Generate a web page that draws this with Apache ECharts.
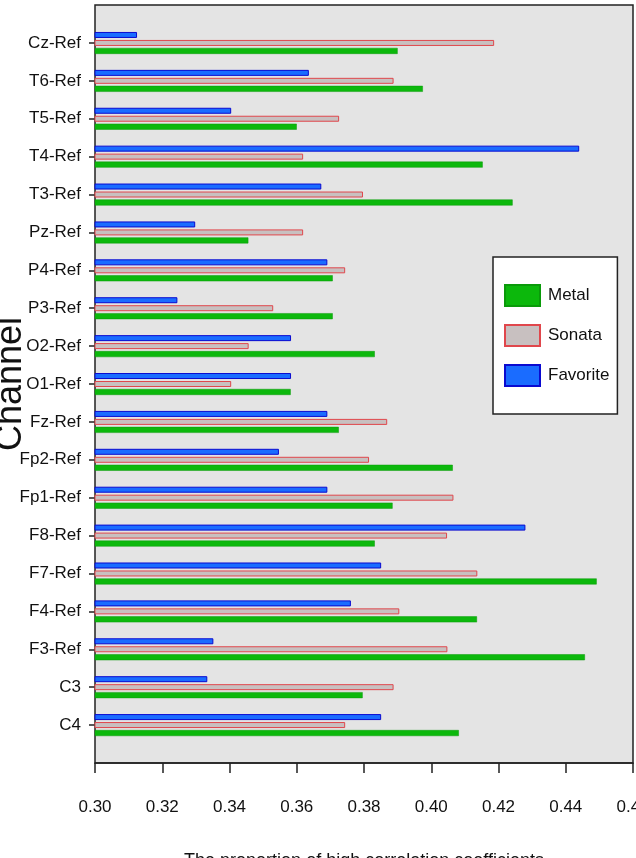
<!DOCTYPE html>
<html>
<head>
<meta charset="utf-8">
<script src="https://cdn.jsdelivr.net/npm/echarts@6/dist/echarts.min.js"></script>
<style>
  html, body { margin: 0; padding: 0; background: #fff; }
  #chart { width: 636px; height: 858px; }
</style>
</head>
<body>
<div id="chart"></div>
<script>
// channels, bottom to top (as echarts lays out a y category axis)
var channels = ['C4', 'C3', 'F3-Ref', 'F4-Ref', 'F7-Ref', 'F8-Ref', 'Fp1-Ref', 'Fp2-Ref', 'Fz-Ref',
  'O1-Ref', 'O2-Ref', 'P3-Ref', 'P4-Ref', 'Pz-Ref', 'T3-Ref', 'T4-Ref', 'T5-Ref', 'T6-Ref', 'Cz-Ref']

var metal = [0.4082, 0.3796, 0.4457, 0.4136, 0.4492, 0.3832, 0.3885, 0.4064, 0.3725,
  0.3582, 0.3832, 0.3707, 0.3707, 0.3456, 0.4242, 0.4153, 0.3600, 0.3975, 0.3900]

var sonata = [0.3744, 0.3888, 0.4048, 0.3905, 0.4137, 0.4047, 0.4066, 0.3815, 0.3869,
  0.3405, 0.3457, 0.3530, 0.3744, 0.3619, 0.3797, 0.3619, 0.3726, 0.3888, 0.4187]

var favorite = [0.3851, 0.3334, 0.3352, 0.3761, 0.3851, 0.4280, 0.3691, 0.3547, 0.3691,
  0.3583, 0.3583, 0.3245, 0.3691, 0.3298, 0.3673, 0.4440, 0.3405, 0.3636, 0.3125]

var xMin = 0.30
var xMax = 0.46
var xStep = 0.02

var labelFont = "'Liberation Sans', Arial, sans-serif"

var myChart = echarts.init(document.getElementById('chart'))
var option = {
  animation: false,
  backgroundColor: '#fff',
  grid: [
    // frame + x axis
    {
      left: 95, right: 3, top: 5, bottom: 95,
      outerBoundsMode: 'none', containLabel: false,
      show: true, backgroundColor: '#e4e4e4', borderColor: '#222', borderWidth: 1.5
    },
    // bars (inset, so the channels sit away from the frame)
    { left: 95, right: 3, top: 24, bottom: 114, outerBoundsMode: 'none', containLabel: false }
  ],
  legend: {
    orient: 'vertical',
    left: 493,
    top: 257,
    padding: [27, 8, 27, 11],
    icon: 'rect',
    itemWidth: 35,
    itemHeight: 21,
    itemGap: 17,
    backgroundColor: '#fff',
    borderColor: '#222',
    borderWidth: 1.5,
    borderRadius: 0,
    textStyle: { fontFamily: labelFont, fontSize: 17, color: '#111', padding: [0, 0, 0, 3] },
    data: ['Metal', 'Sonata', 'Favorite']
  },
  xAxis: [
    {
      gridIndex: 0,
      type: 'value',
      min: xMin,
      max: xMax,
      interval: xStep,
      splitLine: { show: false },
      axisLine: { show: true, lineStyle: { color: '#222', width: 1.5 } },
      axisTick: { show: true, length: 10, lineStyle: { color: '#222', width: 1.5 } },
      axisLabel: {
        margin: 36,
        color: '#111',
        fontFamily: labelFont,
        fontSize: 17,
        showMaxLabel: true,
        hideOverlap: false,
        formatter: function (v) { return v.toFixed(2) }
      },
      name: 'The proportion of high correlation coefficients',
      nameLocation: 'middle',
      nameGap: 89,
      nameMoveOverlap: false,
      nameTextStyle: { fontFamily: labelFont, fontSize: 18, color: '#111' }
    },
    {
      gridIndex: 1,
      type: 'value',
      min: xMin,
      max: xMax,
      show: false
    }
  ],
  yAxis: [
    { gridIndex: 0, type: 'value', show: false },
    {
      gridIndex: 1,
      type: 'category',
      data: channels,
      axisLine: { show: false },
      axisTick: { show: true, alignWithLabel: true, length: 6, lineStyle: { color: '#222', width: 1.5 } },
      axisLabel: { margin: 14, color: '#111', fontFamily: labelFont, fontSize: 17 },
      name: 'Channel',
      nameLocation: 'middle',
      nameGap: 66,
      nameRotate: 90,
      nameMoveOverlap: false,
      nameTextStyle: { fontFamily: labelFont, fontSize: 36, color: '#111' }
    }
  ],
  // first series sits on top of each group
  series: [
    {
      name: 'Favorite',
      type: 'bar',
      xAxisIndex: 1,
      yAxisIndex: 1,
      data: favorite,
      barWidth: 6,
      barGap: '33%',
      itemStyle: { color: '#1a6cff', borderColor: '#0a0ad0', borderWidth: 1 }
    },
    {
      name: 'Sonata',
      type: 'bar',
      xAxisIndex: 1,
      yAxisIndex: 1,
      data: sonata,
      barWidth: 6,
      barGap: '33%',
      itemStyle: { color: '#c8c0c0', borderColor: '#e0474c', borderWidth: 1 }
    },
    {
      name: 'Metal',
      type: 'bar',
      xAxisIndex: 1,
      yAxisIndex: 1,
      data: metal,
      barWidth: 6,
      barGap: '33%',
      itemStyle: { color: '#0cb80c', borderColor: '#0a9a0a', borderWidth: 0.5 }
    }
  ]
}
myChart.setOption(option)
</script>
</body>
</html>
